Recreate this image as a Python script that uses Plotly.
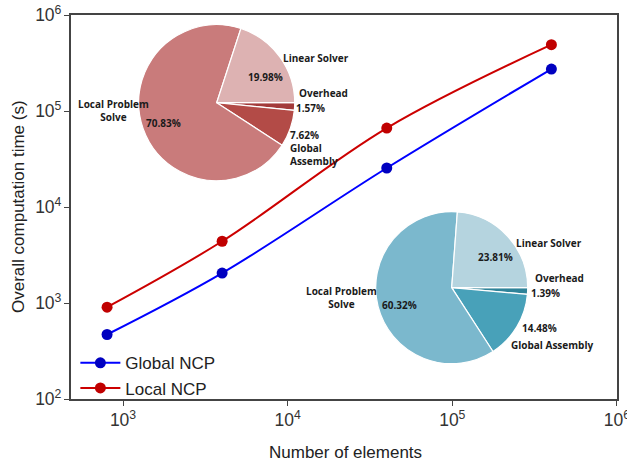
import plotly.graph_objects as go

# Scaling data: total computation time vs. mesh size
elements = [800, 4000, 40000, 400000]
global_ncp_time = [470, 2050, 25500, 274000]
local_ncp_time = [905, 4400, 66500, 491000]

# Time breakdown (percent) for the two pies
pie_labels = ["Overhead", "Global Assembly", "Local Problem Solve", "Linear Solver"]
local_breakdown = [1.57, 7.62, 70.83, 19.98]
global_breakdown = [1.39, 14.48, 60.32, 23.81]
local_colors = ["#A33A3A", "#B34B47", "#C97B7B", "#DDB2B2"]
global_colors = ["#2F8399", "#48A1B9", "#7BB8CD", "#B5D4DF"]

W, H = 627, 462
ML, MR, MT, MB = 71, 10, 15, 63
PW, PH = W - ML - MR, H - MT - MB


def px(x):
    return (x - ML) / PW


def py(y):
    return (H - MB - y) / PH


def pie_domain(cx, cy, r):
    return dict(x=[px(cx - r), px(cx + r)], y=[py(cy + r), py(cy - r)])


fig = go.Figure()

fig.add_trace(go.Scatter(
    x=elements, y=global_ncp_time, name="Global NCP", mode="lines+markers",
    line=dict(color="#0000FF", width=2, shape="spline"),
    marker=dict(color="#0000C0", size=11),
))
fig.add_trace(go.Scatter(
    x=elements, y=local_ncp_time, name="Local NCP", mode="lines+markers",
    line=dict(color="#CC0000", width=2, shape="spline"),
    marker=dict(color="#C00000", size=11),
))

for vals, cols, (cx, cy, r) in [
    (local_breakdown, local_colors, (216.7, 102.7, 78)),
    (global_breakdown, global_colors, (451.7, 287.7, 76)),
]:
    fig.add_trace(go.Pie(
        labels=pie_labels, values=vals, sort=False, direction="clockwise",
        rotation=90, textinfo="none", hoverinfo="label+percent",
        marker=dict(colors=cols, line=dict(color="white", width=1.2)),
        domain=pie_domain(cx, cy, r), showlegend=False,
    ))


def pct(v):
    return f"{v:.2f}%"


lo = dict(zip(pie_labels, local_breakdown))
gl = dict(zip(pie_labels, global_breakdown))

# (text, x, y, anchor) in page pixels
pie_texts = [
    ("Linear Solver", 316, 58, "center"),
    (pct(lo["Linear Solver"]), 265, 77, "center"),
    ("Overhead", 297, 93, "left"),
    (pct(lo["Overhead"]), 294, 108, "left"),
    (pct(lo["Global Assembly"]) + "<br>Global<br>Assembly", 288, 148, "left"),
    ("Local Problem<br>Solve", 113, 110, "center"),
    (pct(lo["Local Problem Solve"]), 163, 123, "center"),
    ("Linear Solver", 549, 243, "center"),
    (pct(gl["Linear Solver"]), 495, 257, "center"),
    ("Overhead", 559, 278, "center"),
    (pct(gl["Overhead"]), 529, 293, "left"),
    (pct(gl["Global Assembly"]), 539, 328, "center"),
    ("Global Assembly", 552, 345, "center"),
    ("Local Problem<br>Solve", 341, 297, "center"),
    (pct(gl["Local Problem Solve"]), 399, 305, "center"),
]
for txt, x, y, anc in pie_texts:
    fig.add_annotation(
        text=f"<b>{txt}</b>", x=px(x), y=py(y), xref="paper", yref="paper",
        xanchor=anc, yanchor="middle", align=anc if anc != "center" else "center",
        showarrow=False,
        font=dict(family="Open Sans", size=10, color="#1a1a1a"),
    )

axis_title_font = dict(family="Liberation Sans", size=17, color="#222222")
fig.add_annotation(text="Number of elements", x=px(345), y=py(452), xref="paper",
                   yref="paper", xanchor="center", yanchor="middle",
                   showarrow=False, font=axis_title_font)
fig.add_annotation(text="Overall computation time (s)", x=px(18), y=py(207),
                   xref="paper", yref="paper", xanchor="center", yanchor="middle",
                   textangle=-90, showarrow=False, font=axis_title_font)

axis_common = dict(
    type="log", showgrid=False, zeroline=False, showline=True, linecolor="#444444",
    linewidth=1.5, mirror=True, ticks="outside", ticklen=5, tickcolor="#444444",
    tickwidth=1.2, dtick=1, exponentformat="power", automargin=False,
    ticklabeloverflow="allow",
    tickfont=dict(family="Liberation Sans", size=14, color="#333333"),
)

fig.update_layout(
    width=W, height=H,
    margin=dict(l=ML, r=MR, t=MT, b=MB),
    paper_bgcolor="white", plot_bgcolor="white",
    xaxis=dict(axis_common, range=[2.684, 6.0005]),
    yaxis=dict(axis_common, range=[2, 6.0005]),
    legend=dict(x=0.008, y=0.14, xanchor="left", yanchor="top",
                bgcolor="rgba(0,0,0,0)", tracegroupgap=0, itemwidth=40,
                font=dict(family="Liberation Sans", size=17, color="#222222")),
    showlegend=True,
)

fig.write_html("out.html")
